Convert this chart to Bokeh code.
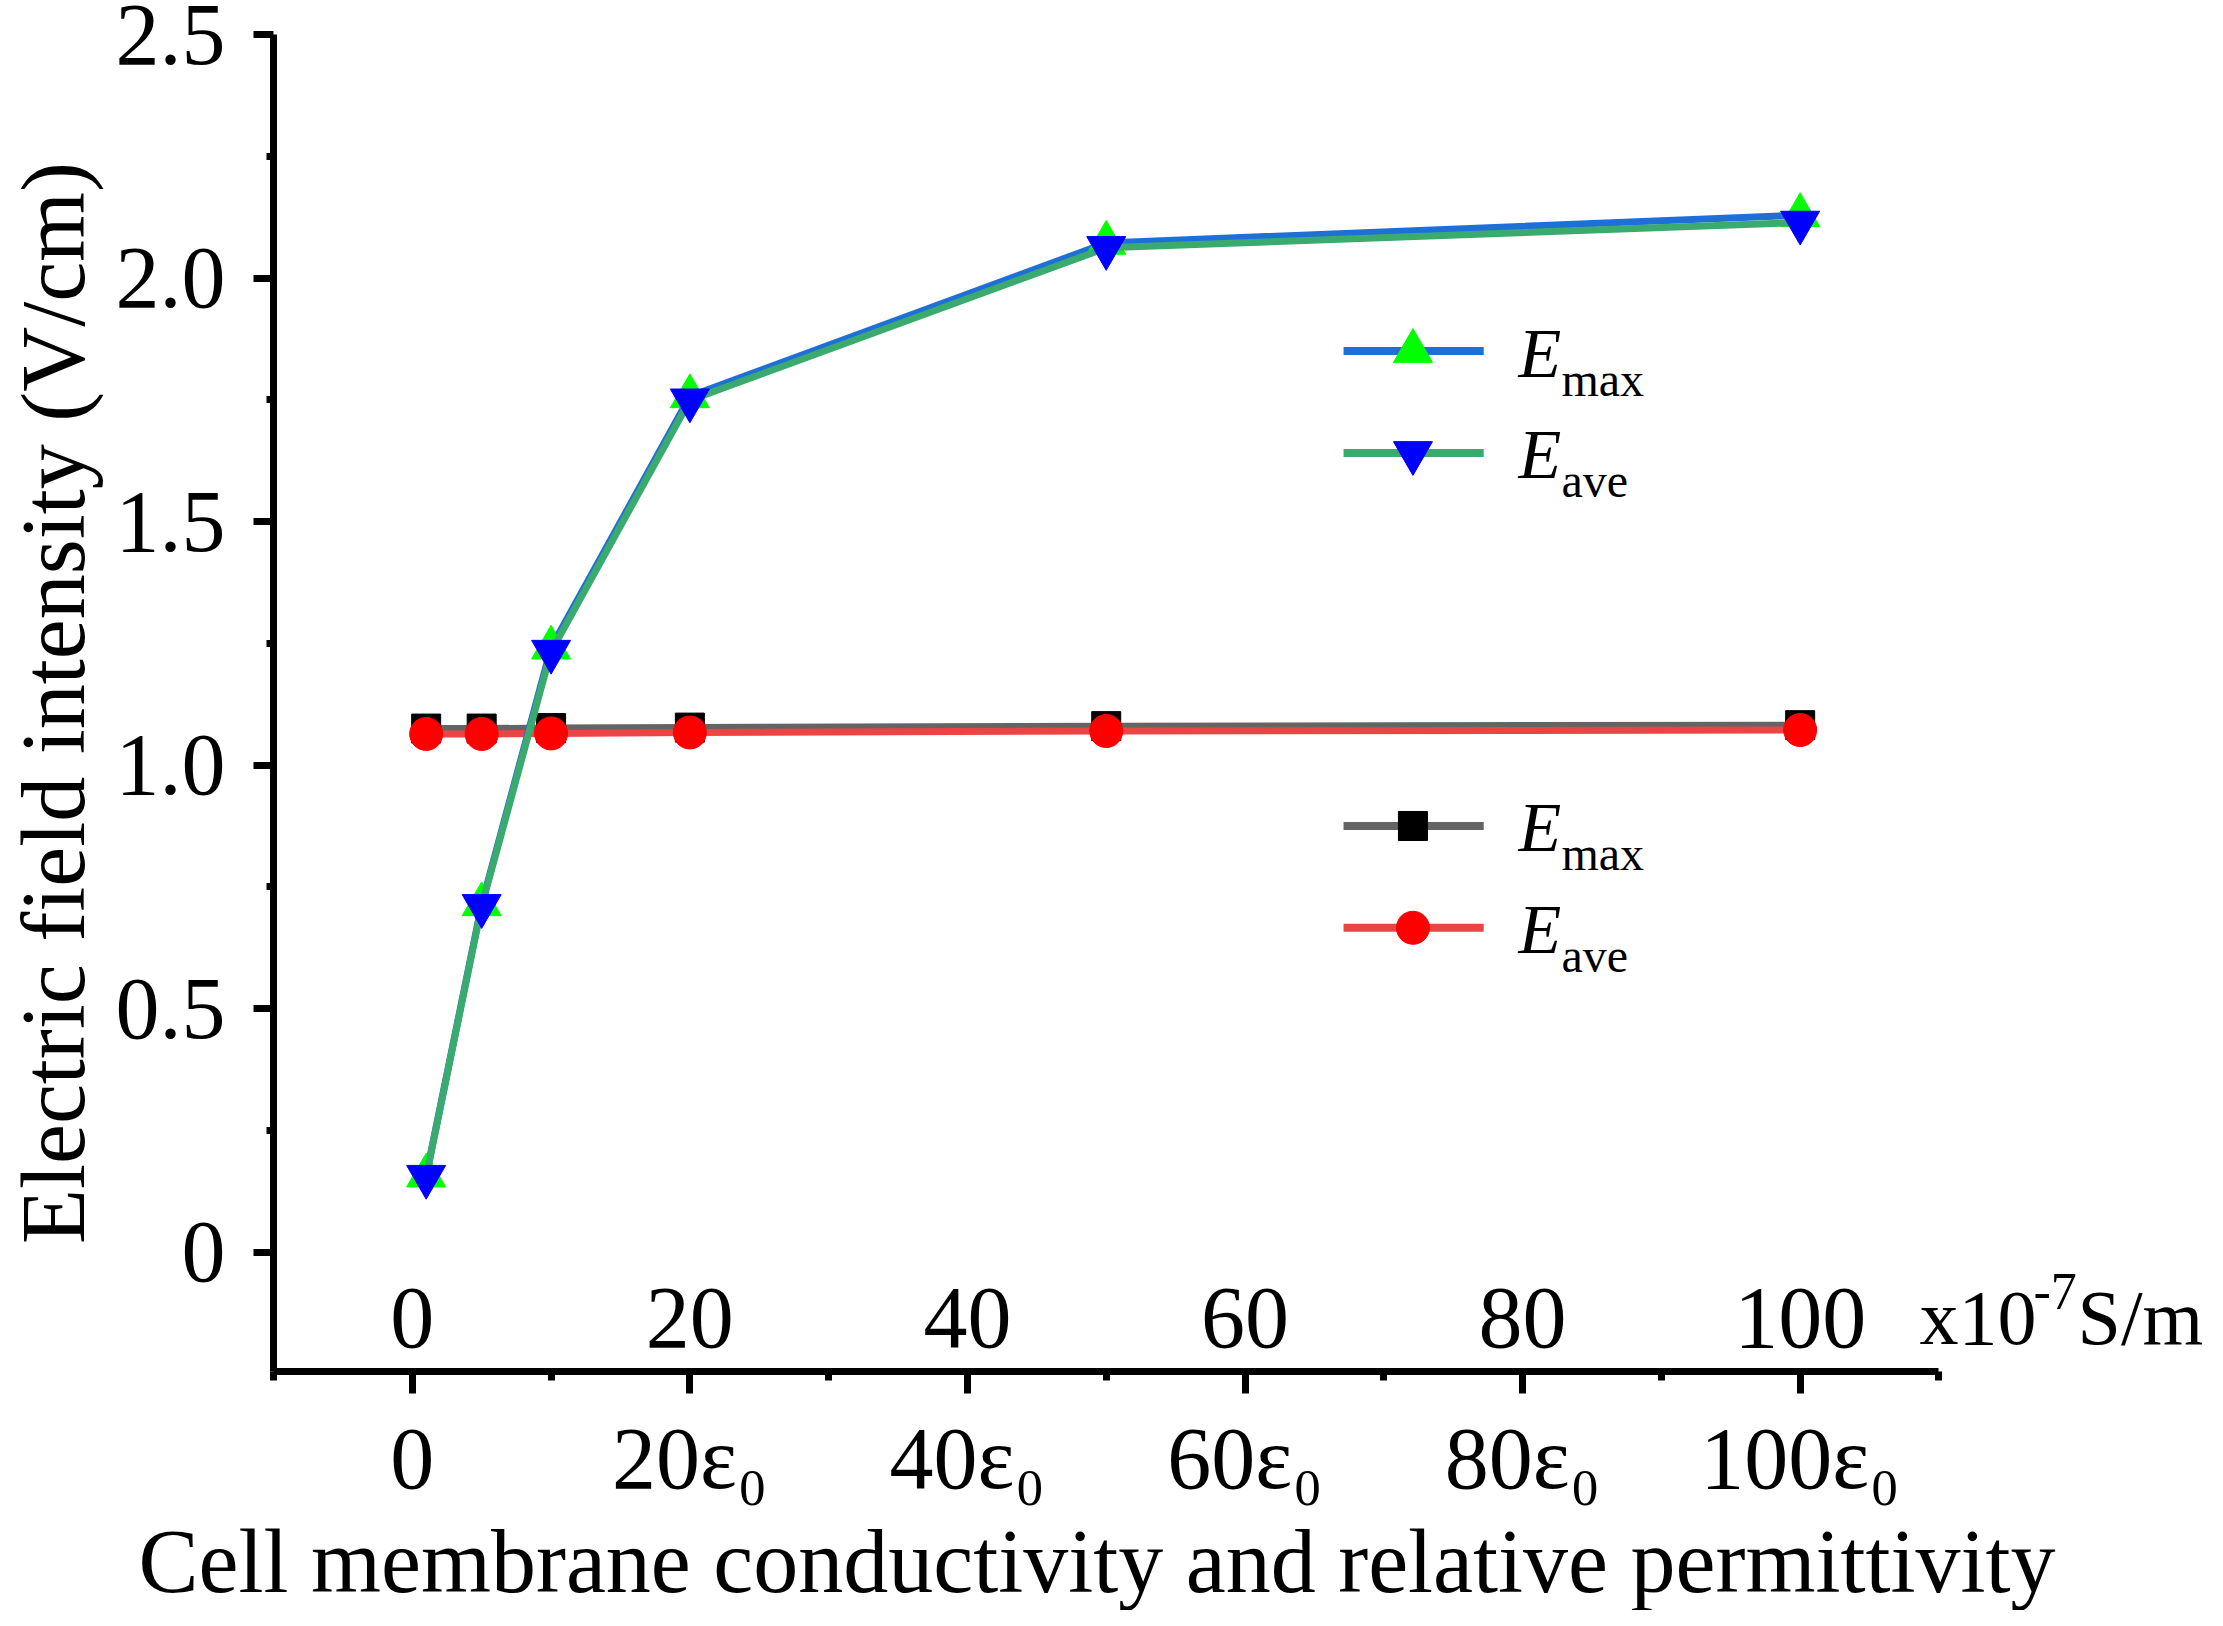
from bokeh.plotting import figure
from bokeh.models import Range1d, FixedTicker, Title
from bokeh.core.properties import value
from bokeh.embed import file_html
from bokeh.resources import INLINE

# ---------------- data ----------------
x_vals = [1, 5, 10, 20, 50, 100]
cond_emax = [0.157, 0.714, 1.241, 1.757, 2.072, 2.129]
cond_eave = [0.155, 0.711, 1.233, 1.749, 2.062, 2.114]
perm_emax = [1.075, 1.075, 1.076, 1.077, 1.080, 1.082]
perm_eave = [1.064, 1.064, 1.065, 1.067, 1.070, 1.072]

x_ticks = [0, 20, 40, 60, 80, 100]
x_minor = [-10, 10, 30, 50, 70, 90, 110]
x_top_labels = ["0", "20", "40", "60", "80", "100"]
x_bottom_labels = ["0", "20ε₀", "40ε₀", "60ε₀", "80ε₀", "100ε₀"]
y_ticks = [0, 0.5, 1.0, 1.5, 2.0, 2.5]
y_minor = [0.25, 0.75, 1.25, 1.75, 2.25]
y_labels = ["0", "0.5", "1.0", "1.5", "2.0", "2.5"]
unit_parts = ["x10", "-7", "S/m"]
legend_names = ["max", "ave"]
x_title = "Cell membrane conductivity and relative permittivity"
y_title = "Electric field intensity (V/cm)"

FONT = "Liberation Serif"
X_AXIS_START, X_AXIS_END = -10, 110

p = figure(width=2207, height=1610,
           x_range=Range1d(X_AXIS_START, 129.35), y_range=Range1d(-0.245, 2.5),
           output_backend="svg", toolbar_location=None,
           min_border_left=270, min_border_right=0,
           min_border_top=34, min_border_bottom=234)
p.outline_line_color = None
p.grid.visible = False
p.background_fill_color = "white"
p.border_fill_color = "white"

# ---------------- axes ----------------
xa = p.xaxis[0]
xa.bounds = (X_AXIS_START, X_AXIS_END)
xa.ticker = FixedTicker(ticks=x_ticks, minor_ticks=x_minor)
xa.major_label_overrides = {t: l for t, l in zip(x_ticks, x_bottom_labels)}
ya = p.yaxis[0]
ya.ticker = FixedTicker(ticks=y_ticks, minor_ticks=y_minor)
ya.major_label_overrides = {t: l for t, l in zip(y_ticks, y_labels)}
ya.axis_label = y_title

for ax in (xa, ya):
    ax.axis_line_width = 7
    ax.axis_line_color = "black"
    ax.major_tick_line_width = 7
    ax.minor_tick_line_width = 7
    ax.major_tick_in = 0
    ax.minor_tick_in = 0
    ax.major_label_text_font = FONT
    ax.major_label_text_font_size = "88px"
    ax.major_label_text_color = "black"
    ax.axis_label_text_font = FONT
    ax.axis_label_text_font_size = "90px"
    ax.axis_label_text_font_style = "normal"
    ax.axis_label_text_color = "black"

xa.major_tick_out = 22
xa.minor_tick_out = 9
xa.major_label_standoff = 16
ya.major_tick_out = 20
ya.minor_tick_out = 7
ya.major_label_standoff = 28
ya.axis_label_standoff = 10

# x-axis title, placed under the drawn axis (-10..110) rather than the whole frame
p.add_layout(Title(text=x_title, align="left", offset=-135, standoff=0,
                   text_font=FONT, text_font_size="90px", text_font_style="normal",
                   text_color="black"), "below")

# ---------------- data series ----------------
p.line(x_vals, perm_emax, line_color="#646464", line_width=7)
p.scatter(x_vals, perm_emax, marker="square", size=29, fill_color="black", line_color="black")
p.line(x_vals, perm_eave, line_color="#eb4444", line_width=7)
p.scatter(x_vals, perm_eave, marker="circle", size=33, fill_color="#ff0000", line_color="#ff0000")
p.line(x_vals, cond_emax, line_color="#1f6fd8", line_width=7)
p.scatter(x_vals, cond_emax, marker="triangle", size=39, fill_color="#00ff00", line_color="#00ff00")
p.line(x_vals, cond_eave, line_color="#3aaa6e", line_width=7)
p.scatter(x_vals, cond_eave, marker="inverted_triangle", size=39, fill_color="#0000ff", line_color="#0000ff")

# ---------------- upper (conductivity) tick labels ----------------
UPPER_Y = -0.135
p.text(x=x_ticks, y=[UPPER_Y] * len(x_ticks), text=x_top_labels,
       text_align="center", text_baseline="middle",
       text_font=value(FONT), text_font_size="88px", text_color="black")
UNIT_X = 108.6
for txt, dx, dy, fs in zip(unit_parts, [0, 114, 158], [0, -26, 0], ["78px", "52px", "78px"]):
    p.text(x=[UNIT_X], y=[UPPER_Y], text=[txt], x_offset=dx, y_offset=dy,
           text_align="left", text_baseline="middle", text_font=value(FONT),
           text_font_size=fs, text_color="black")

# ---------------- legends (manual) ----------------
LX0, LX1, LXM, LTX = 67.1, 77.2, 72.1, 79.7
legend_groups = [
    ([1.850, 1.641], ["#1f6fd8", "#3aaa6e"], ["triangle", "inverted_triangle"],
     ["#00ff00", "#0000ff"], [39, 39]),
    ([0.875, 0.666], ["#646464", "#eb4444"], ["square", "circle"],
     ["black", "#ff0000"], [29, 33]),
]
for rows, lcols, marks, mcols, sizes in legend_groups:
    for yy, lc, mk, mc, sz, nm in zip(rows, lcols, marks, mcols, sizes, legend_names):
        p.segment(x0=[LX0], y0=[yy], x1=[LX1], y1=[yy], line_color=lc, line_width=8)
        p.scatter([LXM], [yy], marker=mk, size=sz, fill_color=mc, line_color=mc)
        p.text(x=[LTX], y=[yy], text=["E"], y_offset=2, text_align="left",
               text_baseline="middle", text_font=value(FONT),
               text_font_style="italic", text_font_size="70px", text_color="black")
        p.text(x=[LTX], y=[yy], text=[nm], x_offset=43, y_offset=28, text_align="left",
               text_baseline="middle", text_font=value(FONT),
               text_font_size="48px", text_color="black")

open("out.html", "w").write(file_html(p, INLINE))
